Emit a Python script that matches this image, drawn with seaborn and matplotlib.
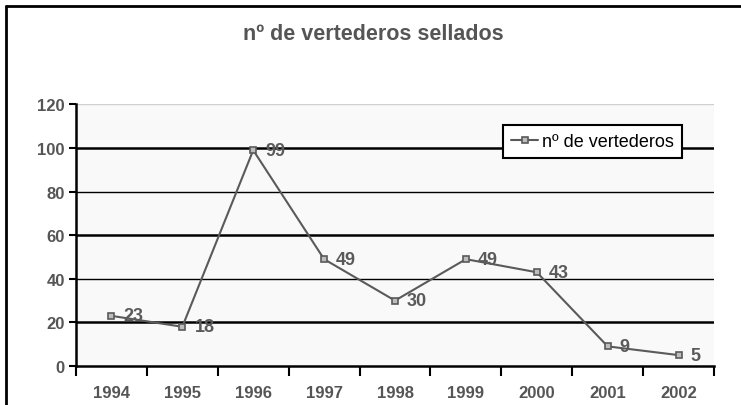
import matplotlib
matplotlib.use("Agg")
import matplotlib.pyplot as plt
import seaborn as sns
import pandas as pd
from matplotlib.lines import Line2D

years = ["1994", "1995", "1996", "1997", "1998", "1999", "2000", "2001", "2002"]
values = [23, 18, 99, 49, 30, 49, 43, 9, 5]
yticks = [0, 20, 40, 60, 80, 100, 120]
title = "nº de vertederos sellados"
series_name = "nº de vertederos"

sns.set_theme(style="white")
plt.rcParams["font.family"] = ["Liberation Sans", "DejaVu Sans"]

df = pd.DataFrame({"year": years, "value": values, "serie": series_name})

fig = plt.figure(figsize=(7.41, 4.06), dpi=100)
ax = fig.add_axes([76 / 741, 39 / 406, 638 / 741, 261.6 / 406])
ax.set_facecolor("#f9f9f9")

gray = "#5a5a5a"
sns.lineplot(data=df, x="year", y="value", hue="serie", palette=[gray], ax=ax,
             marker="s", markersize=5, markerfacecolor="#bdbdbd",
             markeredgecolor=gray, markeredgewidth=1.2, linewidth=1.5,
             sort=False)

ax.set_xlim(-0.5, len(years) - 0.5)
ax.set_ylim(0, 120)
ax.set_yticks(yticks)

# gridlines
for t in yticks[1:]:
    if t == 120:
        ax.axhline(t, color="#d0d0d0", lw=1.0, zorder=0)
    elif t in (20, 60, 100):
        ax.axhline(t, color="black", lw=1.8, zorder=0)
    else:
        ax.axhline(t, color="black", lw=1.0, zorder=0)

for i, v in enumerate(values):
    ax.text(i + 0.17, v, str(v), ha="left", va="center", fontsize=13,
            fontweight="bold", color="#5a5a5a")

ax.set_xlabel("")
ax.set_ylabel("")
for s in ["top", "right"]:
    ax.spines[s].set_visible(False)
for s in ["left", "bottom"]:
    ax.spines[s].set_color("black")
    ax.spines[s].set_linewidth(1.8)

ax.tick_params(axis="x", which="major", length=0, pad=14, labelsize=12,
               labelcolor="#555555")
ax.set_xticks([i - 0.5 for i in range(len(years) + 1)], minor=True)
ax.tick_params(axis="x", which="minor", length=7, width=1.5, color="black",
               direction="out", bottom=True)
ax.tick_params(axis="y", which="major", length=5, width=1.5, color="black",
               direction="out", left=True, labelsize=12, labelcolor="#555555", pad=3)
for lab in ax.get_xticklabels() + ax.get_yticklabels():
    lab.set_fontweight("bold")

leg = ax.legend(loc="upper right", bbox_to_anchor=(0.95, 0.921), frameon=True,
                fancybox=False, framealpha=1, edgecolor="black", fontsize=13,
                handlelength=1.5, borderpad=0.45, handletextpad=0.2,
                borderaxespad=0)
leg.get_frame().set_linewidth(1.5)
leg.get_frame().set_facecolor("white")
for t in leg.get_texts():
    t.set_color("black")

fig.text(373 / 741, 1 - 35 / 406, title, ha="center", va="center",
         fontsize=15.5, fontweight="bold", color="#555555")

# outer frame (left and top edges)
fig.add_artist(Line2D([6 / 741, 6 / 741], [0, 1 - 7 / 406], transform=fig.transFigure,
                      color="black", lw=2))
fig.add_artist(Line2D([6 / 741, 1], [1 - 7 / 406, 1 - 7 / 406], transform=fig.transFigure,
                      color="black", lw=2))

fig.savefig("out.png", dpi=100)
